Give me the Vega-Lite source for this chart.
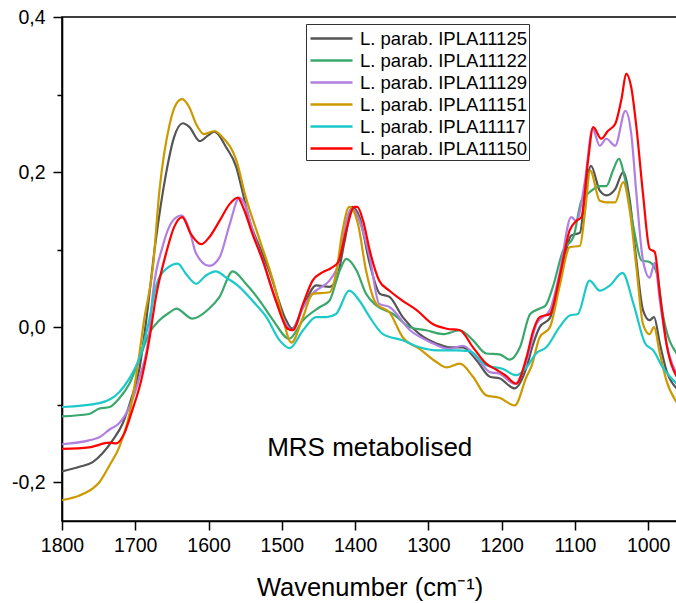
{
  "$schema": "https://vega.github.io/schema/vega-lite/v6.json",
  "width": 615,
  "height": 504,
  "autosize": {"type": "none"},
  "padding": {"left": 62, "top": 17, "right": 0, "bottom": 82},
  "background": "white",
  "config": {
    "view": {"stroke": "black", "strokeWidth": 1.6},
    "font": "Liberation Sans",
    "axis": {
      "labelFont": "Liberation Sans", "labelFontSize": 19.5, "labelColor": "black",
      "titleFont": "Liberation Sans", "titleFontSize": 25.5, "titleFontWeight": "normal", "titleColor": "black",
      "domainColor": "black", "domainWidth": 1.6, "tickColor": "black", "tickWidth": 1.5, "grid": false
    }
  },
  "layer": [
    {
      "data": {"values": [
        {"strain":"L. parab. IPLA11125","wavenumber":1800,"absorbance":-0.186},
        {"strain":"L. parab. IPLA11125","wavenumber":1776,"absorbance":-0.180},
        {"strain":"L. parab. IPLA11125","wavenumber":1758,"absorbance":-0.174},
        {"strain":"L. parab. IPLA11125","wavenumber":1745,"absorbance":-0.163},
        {"strain":"L. parab. IPLA11125","wavenumber":1731,"absorbance":-0.146},
        {"strain":"L. parab. IPLA11125","wavenumber":1717,"absorbance":-0.124},
        {"strain":"L. parab. IPLA11125","wavenumber":1706,"absorbance":-0.094},
        {"strain":"L. parab. IPLA11125","wavenumber":1694,"absorbance":-0.052},
        {"strain":"L. parab. IPLA11125","wavenumber":1685,"absorbance":0.009},
        {"strain":"L. parab. IPLA11125","wavenumber":1672,"absorbance":0.112},
        {"strain":"L. parab. IPLA11125","wavenumber":1658,"absorbance":0.198},
        {"strain":"L. parab. IPLA11125","wavenumber":1647,"absorbance":0.245},
        {"strain":"L. parab. IPLA11125","wavenumber":1635,"absorbance":0.263},
        {"strain":"L. parab. IPLA11125","wavenumber":1626,"absorbance":0.258},
        {"strain":"L. parab. IPLA11125","wavenumber":1612,"absorbance":0.240},
        {"strain":"L. parab. IPLA11125","wavenumber":1601,"absorbance":0.247},
        {"strain":"L. parab. IPLA11125","wavenumber":1592,"absorbance":0.252},
        {"strain":"L. parab. IPLA11125","wavenumber":1576,"absorbance":0.232},
        {"strain":"L. parab. IPLA11125","wavenumber":1562,"absorbance":0.206},
        {"strain":"L. parab. IPLA11125","wavenumber":1555,"absorbance":0.180},
        {"strain":"L. parab. IPLA11125","wavenumber":1544,"absorbance":0.137},
        {"strain":"L. parab. IPLA11125","wavenumber":1530,"absorbance":0.103},
        {"strain":"L. parab. IPLA11125","wavenumber":1517,"absorbance":0.072},
        {"strain":"L. parab. IPLA11125","wavenumber":1494,"absorbance":0.009},
        {"strain":"L. parab. IPLA11125","wavenumber":1486,"absorbance":-0.002},
        {"strain":"L. parab. IPLA11125","wavenumber":1471,"absorbance":0.026},
        {"strain":"L. parab. IPLA11125","wavenumber":1453,"absorbance":0.054},
        {"strain":"L. parab. IPLA11125","wavenumber":1435,"absorbance":0.052},
        {"strain":"L. parab. IPLA11125","wavenumber":1426,"absorbance":0.060},
        {"strain":"L. parab. IPLA11125","wavenumber":1414,"absorbance":0.112},
        {"strain":"L. parab. IPLA11125","wavenumber":1404,"absorbance":0.155},
        {"strain":"L. parab. IPLA11125","wavenumber":1394,"absorbance":0.142},
        {"strain":"L. parab. IPLA11125","wavenumber":1380,"absorbance":0.082},
        {"strain":"L. parab. IPLA11125","wavenumber":1366,"absorbance":0.043},
        {"strain":"L. parab. IPLA11125","wavenumber":1353,"absorbance":0.039},
        {"strain":"L. parab. IPLA11125","wavenumber":1335,"absorbance":0.013},
        {"strain":"L. parab. IPLA11125","wavenumber":1312,"absorbance":-0.009},
        {"strain":"L. parab. IPLA11125","wavenumber":1289,"absorbance":-0.021},
        {"strain":"L. parab. IPLA11125","wavenumber":1271,"absorbance":-0.026},
        {"strain":"L. parab. IPLA11125","wavenumber":1253,"absorbance":-0.026},
        {"strain":"L. parab. IPLA11125","wavenumber":1234,"absorbance":-0.043},
        {"strain":"L. parab. IPLA11125","wavenumber":1216,"absorbance":-0.064},
        {"strain":"L. parab. IPLA11125","wavenumber":1203,"absorbance":-0.066},
        {"strain":"L. parab. IPLA11125","wavenumber":1182,"absorbance":-0.079},
        {"strain":"L. parab. IPLA11125","wavenumber":1166,"absorbance":-0.052},
        {"strain":"L. parab. IPLA11125","wavenumber":1158,"absorbance":-0.025},
        {"strain":"L. parab. IPLA11125","wavenumber":1148,"absorbance":0.000},
        {"strain":"L. parab. IPLA11125","wavenumber":1134,"absorbance":0.012},
        {"strain":"L. parab. IPLA11125","wavenumber":1120,"absorbance":0.064},
        {"strain":"L. parab. IPLA11125","wavenumber":1105,"absorbance":0.118},
        {"strain":"L. parab. IPLA11125","wavenumber":1093,"absorbance":0.122},
        {"strain":"L. parab. IPLA11125","wavenumber":1086,"absorbance":0.172},
        {"strain":"L. parab. IPLA11125","wavenumber":1078,"absorbance":0.208},
        {"strain":"L. parab. IPLA11125","wavenumber":1066,"absorbance":0.176},
        {"strain":"L. parab. IPLA11125","wavenumber":1057,"absorbance":0.170},
        {"strain":"L. parab. IPLA11125","wavenumber":1045,"absorbance":0.178},
        {"strain":"L. parab. IPLA11125","wavenumber":1034,"absorbance":0.200},
        {"strain":"L. parab. IPLA11125","wavenumber":1025,"absorbance":0.163},
        {"strain":"L. parab. IPLA11125","wavenumber":1016,"absorbance":0.086},
        {"strain":"L. parab. IPLA11125","wavenumber":1007,"absorbance":0.022},
        {"strain":"L. parab. IPLA11125","wavenumber":998,"absorbance":0.009},
        {"strain":"L. parab. IPLA11125","wavenumber":992,"absorbance":0.013},
        {"strain":"L. parab. IPLA11125","wavenumber":984,"absorbance":-0.021},
        {"strain":"L. parab. IPLA11125","wavenumber":975,"absorbance":-0.056},
        {"strain":"L. parab. IPLA11125","wavenumber":961,"absorbance":-0.079},

        {"strain":"L. parab. IPLA11122","wavenumber":1800,"absorbance":-0.115},
        {"strain":"L. parab. IPLA11122","wavenumber":1763,"absorbance":-0.112},
        {"strain":"L. parab. IPLA11122","wavenumber":1749,"absorbance":-0.105},
        {"strain":"L. parab. IPLA11122","wavenumber":1735,"absorbance":-0.103},
        {"strain":"L. parab. IPLA11122","wavenumber":1722,"absorbance":-0.092},
        {"strain":"L. parab. IPLA11122","wavenumber":1708,"absorbance":-0.073},
        {"strain":"L. parab. IPLA11122","wavenumber":1694,"absorbance":-0.040},
        {"strain":"L. parab. IPLA11122","wavenumber":1681,"absorbance":-0.008},
        {"strain":"L. parab. IPLA11122","wavenumber":1667,"absorbance":0.009},
        {"strain":"L. parab. IPLA11122","wavenumber":1653,"absorbance":0.019},
        {"strain":"L. parab. IPLA11122","wavenumber":1644,"absorbance":0.024},
        {"strain":"L. parab. IPLA11122","wavenumber":1622,"absorbance":0.011},
        {"strain":"L. parab. IPLA11122","wavenumber":1599,"absorbance":0.024},
        {"strain":"L. parab. IPLA11122","wavenumber":1585,"absorbance":0.039},
        {"strain":"L. parab. IPLA11122","wavenumber":1567,"absorbance":0.072},
        {"strain":"L. parab. IPLA11122","wavenumber":1549,"absorbance":0.056},
        {"strain":"L. parab. IPLA11122","wavenumber":1530,"absorbance":0.034},
        {"strain":"L. parab. IPLA11122","wavenumber":1512,"absorbance":0.009},
        {"strain":"L. parab. IPLA11122","wavenumber":1490,"absorbance":-0.015},
        {"strain":"L. parab. IPLA11122","wavenumber":1471,"absorbance":0.009},
        {"strain":"L. parab. IPLA11122","wavenumber":1448,"absorbance":0.026},
        {"strain":"L. parab. IPLA11122","wavenumber":1435,"absorbance":0.034},
        {"strain":"L. parab. IPLA11122","wavenumber":1421,"absorbance":0.073},
        {"strain":"L. parab. IPLA11122","wavenumber":1412,"absorbance":0.088},
        {"strain":"L. parab. IPLA11122","wavenumber":1398,"absorbance":0.073},
        {"strain":"L. parab. IPLA11122","wavenumber":1385,"absorbance":0.043},
        {"strain":"L. parab. IPLA11122","wavenumber":1371,"absorbance":0.028},
        {"strain":"L. parab. IPLA11122","wavenumber":1348,"absorbance":0.017},
        {"strain":"L. parab. IPLA11122","wavenumber":1325,"absorbance":0.000},
        {"strain":"L. parab. IPLA11122","wavenumber":1303,"absorbance":-0.004},
        {"strain":"L. parab. IPLA11122","wavenumber":1280,"absorbance":-0.009},
        {"strain":"L. parab. IPLA11122","wavenumber":1257,"absorbance":-0.004},
        {"strain":"L. parab. IPLA11122","wavenumber":1239,"absorbance":-0.017},
        {"strain":"L. parab. IPLA11122","wavenumber":1221,"absorbance":-0.034},
        {"strain":"L. parab. IPLA11122","wavenumber":1203,"absorbance":-0.035},
        {"strain":"L. parab. IPLA11122","wavenumber":1189,"absorbance":-0.042},
        {"strain":"L. parab. IPLA11122","wavenumber":1175,"absorbance":-0.026},
        {"strain":"L. parab. IPLA11122","wavenumber":1161,"absorbance":0.017},
        {"strain":"L. parab. IPLA11122","wavenumber":1148,"absorbance":0.024},
        {"strain":"L. parab. IPLA11122","wavenumber":1140,"absorbance":0.028},
        {"strain":"L. parab. IPLA11122","wavenumber":1130,"absorbance":0.052},
        {"strain":"L. parab. IPLA11122","wavenumber":1116,"absorbance":0.099},
        {"strain":"L. parab. IPLA11122","wavenumber":1102,"absorbance":0.116},
        {"strain":"L. parab. IPLA11122","wavenumber":1091,"absorbance":0.163},
        {"strain":"L. parab. IPLA11122","wavenumber":1080,"absorbance":0.174},
        {"strain":"L. parab. IPLA11122","wavenumber":1066,"absorbance":0.182},
        {"strain":"L. parab. IPLA11122","wavenumber":1057,"absorbance":0.182},
        {"strain":"L. parab. IPLA11122","wavenumber":1048,"absorbance":0.202},
        {"strain":"L. parab. IPLA11122","wavenumber":1040,"absorbance":0.217},
        {"strain":"L. parab. IPLA11122","wavenumber":1032,"absorbance":0.193},
        {"strain":"L. parab. IPLA11122","wavenumber":1020,"absorbance":0.129},
        {"strain":"L. parab. IPLA11122","wavenumber":1009,"absorbance":0.086},
        {"strain":"L. parab. IPLA11122","wavenumber":998,"absorbance":0.084},
        {"strain":"L. parab. IPLA11122","wavenumber":988,"absorbance":0.069},
        {"strain":"L. parab. IPLA11122","wavenumber":980,"absorbance":0.017},
        {"strain":"L. parab. IPLA11122","wavenumber":961,"absorbance":-0.034},

        {"strain":"L. parab. IPLA11129","wavenumber":1800,"absorbance":-0.151},
        {"strain":"L. parab. IPLA11129","wavenumber":1763,"absorbance":-0.146},
        {"strain":"L. parab. IPLA11129","wavenumber":1749,"absorbance":-0.142},
        {"strain":"L. parab. IPLA11129","wavenumber":1735,"absorbance":-0.132},
        {"strain":"L. parab. IPLA11129","wavenumber":1722,"absorbance":-0.124},
        {"strain":"L. parab. IPLA11129","wavenumber":1708,"absorbance":-0.103},
        {"strain":"L. parab. IPLA11129","wavenumber":1694,"absorbance":-0.064},
        {"strain":"L. parab. IPLA11129","wavenumber":1681,"absorbance":-0.008},
        {"strain":"L. parab. IPLA11129","wavenumber":1676,"absorbance":0.043},
        {"strain":"L. parab. IPLA11129","wavenumber":1663,"absorbance":0.103},
        {"strain":"L. parab. IPLA11129","wavenumber":1649,"absorbance":0.137},
        {"strain":"L. parab. IPLA11129","wavenumber":1637,"absorbance":0.144},
        {"strain":"L. parab. IPLA11129","wavenumber":1626,"absorbance":0.125},
        {"strain":"L. parab. IPLA11129","wavenumber":1617,"absorbance":0.095},
        {"strain":"L. parab. IPLA11129","wavenumber":1599,"absorbance":0.079},
        {"strain":"L. parab. IPLA11129","wavenumber":1585,"absorbance":0.090},
        {"strain":"L. parab. IPLA11129","wavenumber":1571,"absorbance":0.133},
        {"strain":"L. parab. IPLA11129","wavenumber":1558,"absorbance":0.167},
        {"strain":"L. parab. IPLA11129","wavenumber":1549,"absorbance":0.155},
        {"strain":"L. parab. IPLA11129","wavenumber":1540,"absorbance":0.125},
        {"strain":"L. parab. IPLA11129","wavenumber":1526,"absorbance":0.086},
        {"strain":"L. parab. IPLA11129","wavenumber":1508,"absorbance":0.034},
        {"strain":"L. parab. IPLA11129","wavenumber":1492,"absorbance":0.000},
        {"strain":"L. parab. IPLA11129","wavenumber":1486,"absorbance":-0.004},
        {"strain":"L. parab. IPLA11129","wavenumber":1471,"absorbance":0.025},
        {"strain":"L. parab. IPLA11129","wavenumber":1458,"absorbance":0.043},
        {"strain":"L. parab. IPLA11129","wavenumber":1435,"absorbance":0.060},
        {"strain":"L. parab. IPLA11129","wavenumber":1426,"absorbance":0.073},
        {"strain":"L. parab. IPLA11129","wavenumber":1405,"absorbance":0.153},
        {"strain":"L. parab. IPLA11129","wavenumber":1380,"absorbance":0.090},
        {"strain":"L. parab. IPLA11129","wavenumber":1367,"absorbance":0.030},
        {"strain":"L. parab. IPLA11129","wavenumber":1353,"absorbance":0.026},
        {"strain":"L. parab. IPLA11129","wavenumber":1325,"absorbance":-0.004},
        {"strain":"L. parab. IPLA11129","wavenumber":1298,"absorbance":-0.019},
        {"strain":"L. parab. IPLA11129","wavenumber":1271,"absorbance":-0.028},
        {"strain":"L. parab. IPLA11129","wavenumber":1253,"absorbance":-0.024},
        {"strain":"L. parab. IPLA11129","wavenumber":1234,"absorbance":-0.039},
        {"strain":"L. parab. IPLA11129","wavenumber":1216,"absorbance":-0.058},
        {"strain":"L. parab. IPLA11129","wavenumber":1203,"absorbance":-0.060},
        {"strain":"L. parab. IPLA11129","wavenumber":1182,"absorbance":-0.073},
        {"strain":"L. parab. IPLA11129","wavenumber":1166,"absorbance":-0.043},
        {"strain":"L. parab. IPLA11129","wavenumber":1152,"absorbance":0.005},
        {"strain":"L. parab. IPLA11129","wavenumber":1134,"absorbance":0.022},
        {"strain":"L. parab. IPLA11129","wavenumber":1121,"absorbance":0.069},
        {"strain":"L. parab. IPLA11129","wavenumber":1105,"absorbance":0.142},
        {"strain":"L. parab. IPLA11129","wavenumber":1098,"absorbance":0.137},
        {"strain":"L. parab. IPLA11129","wavenumber":1086,"absorbance":0.190},
        {"strain":"L. parab. IPLA11129","wavenumber":1076,"absorbance":0.256},
        {"strain":"L. parab. IPLA11129","wavenumber":1066,"absorbance":0.234},
        {"strain":"L. parab. IPLA11129","wavenumber":1057,"absorbance":0.243},
        {"strain":"L. parab. IPLA11129","wavenumber":1045,"absorbance":0.234},
        {"strain":"L. parab. IPLA11129","wavenumber":1031,"absorbance":0.279},
        {"strain":"L. parab. IPLA11129","wavenumber":1023,"absorbance":0.249},
        {"strain":"L. parab. IPLA11129","wavenumber":1016,"absorbance":0.172},
        {"strain":"L. parab. IPLA11129","wavenumber":1007,"absorbance":0.086},
        {"strain":"L. parab. IPLA11129","wavenumber":998,"absorbance":0.064},
        {"strain":"L. parab. IPLA11129","wavenumber":991,"absorbance":0.083},
        {"strain":"L. parab. IPLA11129","wavenumber":984,"absorbance":0.034},
        {"strain":"L. parab. IPLA11129","wavenumber":975,"absorbance":-0.021},
        {"strain":"L. parab. IPLA11129","wavenumber":961,"absorbance":-0.060},

        {"strain":"L. parab. IPLA11151","wavenumber":1800,"absorbance":-0.223},
        {"strain":"L. parab. IPLA11151","wavenumber":1776,"absorbance":-0.217},
        {"strain":"L. parab. IPLA11151","wavenumber":1758,"absorbance":-0.208},
        {"strain":"L. parab. IPLA11151","wavenumber":1749,"absorbance":-0.200},
        {"strain":"L. parab. IPLA11151","wavenumber":1735,"absorbance":-0.178},
        {"strain":"L. parab. IPLA11151","wavenumber":1722,"absorbance":-0.155},
        {"strain":"L. parab. IPLA11151","wavenumber":1708,"absorbance":-0.112},
        {"strain":"L. parab. IPLA11151","wavenumber":1697,"absorbance":-0.052},
        {"strain":"L. parab. IPLA11151","wavenumber":1688,"absorbance":0.009},
        {"strain":"L. parab. IPLA11151","wavenumber":1676,"absorbance":0.077},
        {"strain":"L. parab. IPLA11151","wavenumber":1667,"absorbance":0.176},
        {"strain":"L. parab. IPLA11151","wavenumber":1653,"absorbance":0.262},
        {"strain":"L. parab. IPLA11151","wavenumber":1644,"absorbance":0.288},
        {"strain":"L. parab. IPLA11151","wavenumber":1636,"absorbance":0.294},
        {"strain":"L. parab. IPLA11151","wavenumber":1626,"absorbance":0.283},
        {"strain":"L. parab. IPLA11151","wavenumber":1617,"absorbance":0.262},
        {"strain":"L. parab. IPLA11151","wavenumber":1606,"absorbance":0.249},
        {"strain":"L. parab. IPLA11151","wavenumber":1592,"absorbance":0.253},
        {"strain":"L. parab. IPLA11151","wavenumber":1581,"absorbance":0.245},
        {"strain":"L. parab. IPLA11151","wavenumber":1562,"absorbance":0.215},
        {"strain":"L. parab. IPLA11151","wavenumber":1549,"absorbance":0.167},
        {"strain":"L. parab. IPLA11151","wavenumber":1530,"absorbance":0.112},
        {"strain":"L. parab. IPLA11151","wavenumber":1512,"absorbance":0.060},
        {"strain":"L. parab. IPLA11151","wavenumber":1499,"absorbance":0.013},
        {"strain":"L. parab. IPLA11151","wavenumber":1487,"absorbance":-0.020},
        {"strain":"L. parab. IPLA11151","wavenumber":1471,"absorbance":0.013},
        {"strain":"L. parab. IPLA11151","wavenumber":1458,"absorbance":0.043},
        {"strain":"L. parab. IPLA11151","wavenumber":1435,"absorbance":0.045},
        {"strain":"L. parab. IPLA11151","wavenumber":1426,"absorbance":0.069},
        {"strain":"L. parab. IPLA11151","wavenumber":1417,"absorbance":0.125},
        {"strain":"L. parab. IPLA11151","wavenumber":1408,"absorbance":0.155},
        {"strain":"L. parab. IPLA11151","wavenumber":1396,"absorbance":0.133},
        {"strain":"L. parab. IPLA11151","wavenumber":1385,"absorbance":0.073},
        {"strain":"L. parab. IPLA11151","wavenumber":1371,"absorbance":0.030},
        {"strain":"L. parab. IPLA11151","wavenumber":1353,"absorbance":0.019},
        {"strain":"L. parab. IPLA11151","wavenumber":1335,"absorbance":-0.013},
        {"strain":"L. parab. IPLA11151","wavenumber":1312,"absorbance":-0.028},
        {"strain":"L. parab. IPLA11151","wavenumber":1289,"absorbance":-0.045},
        {"strain":"L. parab. IPLA11151","wavenumber":1275,"absorbance":-0.052},
        {"strain":"L. parab. IPLA11151","wavenumber":1257,"absorbance":-0.047},
        {"strain":"L. parab. IPLA11151","wavenumber":1239,"absorbance":-0.064},
        {"strain":"L. parab. IPLA11151","wavenumber":1221,"absorbance":-0.088},
        {"strain":"L. parab. IPLA11151","wavenumber":1203,"absorbance":-0.091},
        {"strain":"L. parab. IPLA11151","wavenumber":1182,"absorbance":-0.101},
        {"strain":"L. parab. IPLA11151","wavenumber":1166,"absorbance":-0.064},
        {"strain":"L. parab. IPLA11151","wavenumber":1159,"absorbance":-0.050},
        {"strain":"L. parab. IPLA11151","wavenumber":1148,"absorbance":-0.013},
        {"strain":"L. parab. IPLA11151","wavenumber":1134,"absorbance":0.000},
        {"strain":"L. parab. IPLA11151","wavenumber":1121,"absorbance":0.052},
        {"strain":"L. parab. IPLA11151","wavenumber":1107,"absorbance":0.103},
        {"strain":"L. parab. IPLA11151","wavenumber":1093,"absorbance":0.105},
        {"strain":"L. parab. IPLA11151","wavenumber":1086,"absorbance":0.150},
        {"strain":"L. parab. IPLA11151","wavenumber":1079,"absorbance":0.202},
        {"strain":"L. parab. IPLA11151","wavenumber":1066,"absorbance":0.163},
        {"strain":"L. parab. IPLA11151","wavenumber":1057,"absorbance":0.161},
        {"strain":"L. parab. IPLA11151","wavenumber":1045,"absorbance":0.161},
        {"strain":"L. parab. IPLA11151","wavenumber":1034,"absorbance":0.187},
        {"strain":"L. parab. IPLA11151","wavenumber":1025,"absorbance":0.150},
        {"strain":"L. parab. IPLA11151","wavenumber":1016,"absorbance":0.077},
        {"strain":"L. parab. IPLA11151","wavenumber":1007,"absorbance":0.004},
        {"strain":"L. parab. IPLA11151","wavenumber":998,"absorbance":-0.009},
        {"strain":"L. parab. IPLA11151","wavenumber":992,"absorbance":0.000},
        {"strain":"L. parab. IPLA11151","wavenumber":984,"absorbance":-0.034},
        {"strain":"L. parab. IPLA11151","wavenumber":975,"absorbance":-0.069},
        {"strain":"L. parab. IPLA11151","wavenumber":961,"absorbance":-0.097},

        {"strain":"L. parab. IPLA11117","wavenumber":1800,"absorbance":-0.103},
        {"strain":"L. parab. IPLA11117","wavenumber":1749,"absorbance":-0.098},
        {"strain":"L. parab. IPLA11117","wavenumber":1722,"absorbance":-0.084},
        {"strain":"L. parab. IPLA11117","wavenumber":1708,"absorbance":-0.066},
        {"strain":"L. parab. IPLA11117","wavenumber":1694,"absorbance":-0.039},
        {"strain":"L. parab. IPLA11117","wavenumber":1681,"absorbance":0.009},
        {"strain":"L. parab. IPLA11117","wavenumber":1672,"absorbance":0.052},
        {"strain":"L. parab. IPLA11117","wavenumber":1658,"absorbance":0.075},
        {"strain":"L. parab. IPLA11117","wavenumber":1642,"absorbance":0.082},
        {"strain":"L. parab. IPLA11117","wavenumber":1631,"absorbance":0.069},
        {"strain":"L. parab. IPLA11117","wavenumber":1617,"absorbance":0.056},
        {"strain":"L. parab. IPLA11117","wavenumber":1603,"absorbance":0.067},
        {"strain":"L. parab. IPLA11117","wavenumber":1590,"absorbance":0.072},
        {"strain":"L. parab. IPLA11117","wavenumber":1576,"absorbance":0.064},
        {"strain":"L. parab. IPLA11117","wavenumber":1558,"absorbance":0.052},
        {"strain":"L. parab. IPLA11117","wavenumber":1540,"absorbance":0.034},
        {"strain":"L. parab. IPLA11117","wavenumber":1521,"absorbance":0.013},
        {"strain":"L. parab. IPLA11117","wavenumber":1503,"absorbance":-0.017},
        {"strain":"L. parab. IPLA11117","wavenumber":1489,"absorbance":-0.027},
        {"strain":"L. parab. IPLA11117","wavenumber":1471,"absorbance":-0.004},
        {"strain":"L. parab. IPLA11117","wavenumber":1453,"absorbance":0.013},
        {"strain":"L. parab. IPLA11117","wavenumber":1439,"absorbance":0.013},
        {"strain":"L. parab. IPLA11117","wavenumber":1426,"absorbance":0.017},
        {"strain":"L. parab. IPLA11117","wavenumber":1408,"absorbance":0.047},
        {"strain":"L. parab. IPLA11117","wavenumber":1394,"absorbance":0.034},
        {"strain":"L. parab. IPLA11117","wavenumber":1380,"absorbance":0.013},
        {"strain":"L. parab. IPLA11117","wavenumber":1362,"absorbance":-0.009},
        {"strain":"L. parab. IPLA11117","wavenumber":1335,"absorbance":-0.017},
        {"strain":"L. parab. IPLA11117","wavenumber":1312,"absorbance":-0.026},
        {"strain":"L. parab. IPLA11117","wavenumber":1289,"absorbance":-0.030},
        {"strain":"L. parab. IPLA11117","wavenumber":1262,"absorbance":-0.030},
        {"strain":"L. parab. IPLA11117","wavenumber":1244,"absorbance":-0.031},
        {"strain":"L. parab. IPLA11117","wavenumber":1221,"absorbance":-0.049},
        {"strain":"L. parab. IPLA11117","wavenumber":1198,"absorbance":-0.054},
        {"strain":"L. parab. IPLA11117","wavenumber":1180,"absorbance":-0.062},
        {"strain":"L. parab. IPLA11117","wavenumber":1166,"absorbance":-0.052},
        {"strain":"L. parab. IPLA11117","wavenumber":1153,"absorbance":-0.034},
        {"strain":"L. parab. IPLA11117","wavenumber":1139,"absorbance":-0.026},
        {"strain":"L. parab. IPLA11117","wavenumber":1121,"absorbance":0.000},
        {"strain":"L. parab. IPLA11117","wavenumber":1107,"absorbance":0.015},
        {"strain":"L. parab. IPLA11117","wavenumber":1096,"absorbance":0.017},
        {"strain":"L. parab. IPLA11117","wavenumber":1080,"absorbance":0.060},
        {"strain":"L. parab. IPLA11117","wavenumber":1066,"absorbance":0.047},
        {"strain":"L. parab. IPLA11117","wavenumber":1052,"absorbance":0.054},
        {"strain":"L. parab. IPLA11117","wavenumber":1035,"absorbance":0.070},
        {"strain":"L. parab. IPLA11117","wavenumber":1020,"absorbance":0.030},
        {"strain":"L. parab. IPLA11117","wavenumber":1004,"absorbance":-0.021},
        {"strain":"L. parab. IPLA11117","wavenumber":993,"absorbance":-0.030},
        {"strain":"L. parab. IPLA11117","wavenumber":980,"absorbance":-0.052},
        {"strain":"L. parab. IPLA11117","wavenumber":961,"absorbance":-0.073},

        {"strain":"L. parab. IPLA11150","wavenumber":1800,"absorbance":-0.157},
        {"strain":"L. parab. IPLA11150","wavenumber":1763,"absorbance":-0.155},
        {"strain":"L. parab. IPLA11150","wavenumber":1735,"absorbance":-0.149},
        {"strain":"L. parab. IPLA11150","wavenumber":1726,"absorbance":-0.150},
        {"strain":"L. parab. IPLA11150","wavenumber":1715,"absorbance":-0.137},
        {"strain":"L. parab. IPLA11150","wavenumber":1704,"absorbance":-0.107},
        {"strain":"L. parab. IPLA11150","wavenumber":1692,"absorbance":-0.069},
        {"strain":"L. parab. IPLA11150","wavenumber":1681,"absorbance":-0.017},
        {"strain":"L. parab. IPLA11150","wavenumber":1672,"absorbance":0.038},
        {"strain":"L. parab. IPLA11150","wavenumber":1658,"absorbance":0.095},
        {"strain":"L. parab. IPLA11150","wavenumber":1647,"absorbance":0.129},
        {"strain":"L. parab. IPLA11150","wavenumber":1636,"absorbance":0.142},
        {"strain":"L. parab. IPLA11150","wavenumber":1624,"absorbance":0.120},
        {"strain":"L. parab. IPLA11150","wavenumber":1610,"absorbance":0.107},
        {"strain":"L. parab. IPLA11150","wavenumber":1599,"absorbance":0.116},
        {"strain":"L. parab. IPLA11150","wavenumber":1585,"absorbance":0.137},
        {"strain":"L. parab. IPLA11150","wavenumber":1571,"absorbance":0.159},
        {"strain":"L. parab. IPLA11150","wavenumber":1560,"absorbance":0.167},
        {"strain":"L. parab. IPLA11150","wavenumber":1553,"absorbance":0.155},
        {"strain":"L. parab. IPLA11150","wavenumber":1540,"absorbance":0.120},
        {"strain":"L. parab. IPLA11150","wavenumber":1526,"absorbance":0.086},
        {"strain":"L. parab. IPLA11150","wavenumber":1508,"absorbance":0.034},
        {"strain":"L. parab. IPLA11150","wavenumber":1492,"absorbance":-0.002},
        {"strain":"L. parab. IPLA11150","wavenumber":1485,"absorbance":-0.004},
        {"strain":"L. parab. IPLA11150","wavenumber":1471,"absorbance":0.030},
        {"strain":"L. parab. IPLA11150","wavenumber":1458,"absorbance":0.060},
        {"strain":"L. parab. IPLA11150","wavenumber":1444,"absorbance":0.071},
        {"strain":"L. parab. IPLA11150","wavenumber":1433,"absorbance":0.076},
        {"strain":"L. parab. IPLA11150","wavenumber":1423,"absorbance":0.084},
        {"strain":"L. parab. IPLA11150","wavenumber":1412,"absorbance":0.125},
        {"strain":"L. parab. IPLA11150","wavenumber":1401,"absorbance":0.155},
        {"strain":"L. parab. IPLA11150","wavenumber":1397,"absorbance":0.155},
        {"strain":"L. parab. IPLA11150","wavenumber":1389,"absorbance":0.137},
        {"strain":"L. parab. IPLA11150","wavenumber":1380,"absorbance":0.099},
        {"strain":"L. parab. IPLA11150","wavenumber":1367,"absorbance":0.060},
        {"strain":"L. parab. IPLA11150","wavenumber":1353,"absorbance":0.047},
        {"strain":"L. parab. IPLA11150","wavenumber":1335,"absorbance":0.034},
        {"strain":"L. parab. IPLA11150","wavenumber":1316,"absorbance":0.022},
        {"strain":"L. parab. IPLA11150","wavenumber":1294,"absorbance":0.004},
        {"strain":"L. parab. IPLA11150","wavenumber":1275,"absorbance":-0.002},
        {"strain":"L. parab. IPLA11150","wavenumber":1257,"absorbance":-0.004},
        {"strain":"L. parab. IPLA11150","wavenumber":1239,"absorbance":-0.026},
        {"strain":"L. parab. IPLA11150","wavenumber":1221,"absorbance":-0.047},
        {"strain":"L. parab. IPLA11150","wavenumber":1207,"absorbance":-0.055},
        {"strain":"L. parab. IPLA11150","wavenumber":1195,"absorbance":-0.062},
        {"strain":"L. parab. IPLA11150","wavenumber":1180,"absorbance":-0.073},
        {"strain":"L. parab. IPLA11150","wavenumber":1166,"absorbance":-0.039},
        {"strain":"L. parab. IPLA11150","wavenumber":1157,"absorbance":-0.005},
        {"strain":"L. parab. IPLA11150","wavenumber":1148,"absorbance":0.013},
        {"strain":"L. parab. IPLA11150","wavenumber":1134,"absorbance":0.017},
        {"strain":"L. parab. IPLA11150","wavenumber":1120,"absorbance":0.069},
        {"strain":"L. parab. IPLA11150","wavenumber":1107,"absorbance":0.125},
        {"strain":"L. parab. IPLA11150","wavenumber":1098,"absorbance":0.137},
        {"strain":"L. parab. IPLA11150","wavenumber":1091,"absorbance":0.142},
        {"strain":"L. parab. IPLA11150","wavenumber":1082,"absorbance":0.215},
        {"strain":"L. parab. IPLA11150","wavenumber":1075,"absorbance":0.258},
        {"strain":"L. parab. IPLA11150","wavenumber":1064,"absorbance":0.243},
        {"strain":"L. parab. IPLA11150","wavenumber":1055,"absorbance":0.253},
        {"strain":"L. parab. IPLA11150","wavenumber":1045,"absorbance":0.262},
        {"strain":"L. parab. IPLA11150","wavenumber":1036,"absorbance":0.296},
        {"strain":"L. parab. IPLA11150","wavenumber":1030,"absorbance":0.327},
        {"strain":"L. parab. IPLA11150","wavenumber":1023,"absorbance":0.309},
        {"strain":"L. parab. IPLA11150","wavenumber":1016,"absorbance":0.258},
        {"strain":"L. parab. IPLA11150","wavenumber":1007,"absorbance":0.172},
        {"strain":"L. parab. IPLA11150","wavenumber":998,"absorbance":0.101},
        {"strain":"L. parab. IPLA11150","wavenumber":991,"absorbance":0.097},
        {"strain":"L. parab. IPLA11150","wavenumber":984,"absorbance":0.043},
        {"strain":"L. parab. IPLA11150","wavenumber":975,"absorbance":-0.021},
        {"strain":"L. parab. IPLA11150","wavenumber":961,"absorbance":-0.064}
      ]},
      "mark": {"type": "line", "interpolate": "monotone", "strokeWidth": 2.2, "clip": true},
      "encoding": {
        "x": {
          "field": "wavenumber", "type": "quantitative",
          "scale": {"domain": [960.6, 1800], "reverse": true, "nice": false, "zero": false},
          "axis": {
            "title": "Wavenumber (cm⁻¹)",
            "titlePadding": 21,
            "values": [1800, 1750, 1700, 1650, 1600, 1550, 1500, 1450, 1400, 1350, 1300, 1250, 1200, 1150, 1100, 1050, 1000],
            "labelExpr": "datum.value % 100 === 0 ? '' + datum.value : ''",
            "tickSize": {"condition": {"test": "datum.value % 100 === 0", "value": 9}, "value": 5},
            "labelPadding": 6,
            "labelFlush": false,
            "labelOverlap": false
          }
        },
        "y": {
          "field": "absorbance", "type": "quantitative",
          "scale": {"domain": [-0.25, 0.4], "nice": false, "zero": false},
          "axis": {
            "title": null,
            "values": [-0.2, -0.1, 0, 0.1, 0.2, 0.3, 0.4],
            "labelExpr": "round(datum.value * 10) % 2 === 0 ? (datum.value < 0 ? '-' : '') + replace(format(abs(datum.value), '.1f'), '.', ',') : ''",
            "tickSize": {"condition": {"test": "round(datum.value * 10) % 2 === 0", "value": 9}, "value": 5},
            "labelPadding": 8,
            "labelFlush": false,
            "labelOverlap": false
          }
        },
        "color": {
          "field": "strain", "type": "nominal",
          "scale": {
            "domain": ["L. parab. IPLA11125", "L. parab. IPLA11122", "L. parab. IPLA11129", "L. parab. IPLA11151", "L. parab. IPLA11117", "L. parab. IPLA11150"],
            "range": ["#555555", "#3aa86b", "#b07fe0", "#cc9900", "#1cc9c9", "#ff0000"]
          },
          "legend": {
            "title": null,
            "orient": "none",
            "legendX": 244,
            "legendY": 7,
            "strokeColor": "#333333",
            "fillColor": "white",
            "padding": 2,
            "symbolType": "M-0.91,0H2.91",
            "symbolSize": 484,
            "symbolStrokeWidth": 2.5,
            "labelFont": "Liberation Sans",
            "labelFontSize": 18.5,
            "labelColor": "black",
            "labelOffset": 27,
            "labelLimit": 400,
            "rowPadding": 0
          }
        }
      }
    },
    {
      "data": {"values": [{"wavenumber": 1380, "absorbance": -0.1665, "label": "MRS metabolised"}]},
      "mark": {"type": "text", "fontSize": 26, "font": "Liberation Sans", "align": "center", "baseline": "alphabetic", "color": "black"},
      "encoding": {
        "x": {"field": "wavenumber", "type": "quantitative"},
        "y": {"field": "absorbance", "type": "quantitative"},
        "text": {"field": "label"}
      }
    }
  ]
}
